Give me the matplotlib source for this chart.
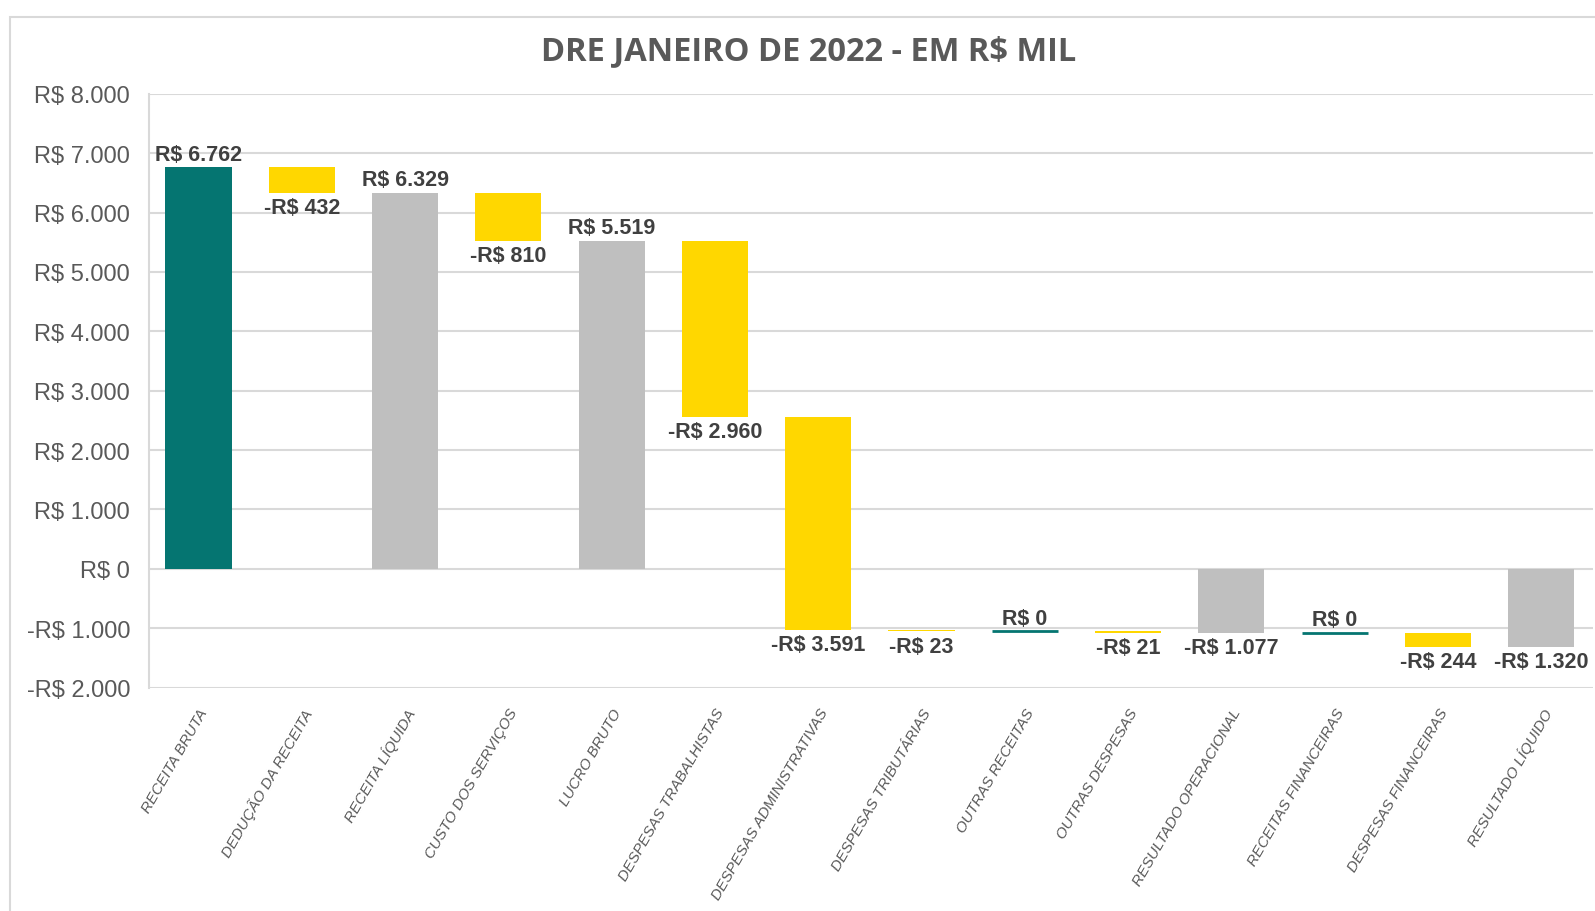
import numpy as np
import matplotlib.pyplot as plt
from matplotlib.patches import Rectangle
from matplotlib.ticker import FuncFormatter

# DRE waterfall, values in R$ mil
categories = ['RECEITA BRUTA', 'DEDUÇÃO DA RECEITA', 'RECEITA LÍQUIDA', 'CUSTO DOS SERVIÇOS',
              'LUCRO BRUTO', 'DESPESAS TRABALHISTAS', 'DESPESAS ADMINISTRATIVAS',
              'DESPESAS TRIBUTÁRIAS', 'OUTRAS RECEITAS', 'OUTRAS DESPESAS',
              'RESULTADO OPERACIONAL', 'RECEITAS FINANCEIRAS', 'DESPESAS FINANCEIRAS',
              'RESULTADO LÍQUIDO']
values = [6762, -432, 6329, -810, 5519, -2960, -3591, -23, 0, -21, -1077, 0, -244, -1320]
kinds = ['start', 'delta', 'total', 'delta', 'total', 'delta', 'delta',
         'delta', 'delta', 'delta', 'total', 'delta', 'delta', 'total']

teal = '#057571'
yellow = '#FFD700'
gray = '#BFBFBF'
txt = '#595959'

narrow = ['Liberation Sans Narrow', 'Liberation Sans', 'DejaVu Sans']


def fmt(v, pos=None):
    s = f"{abs(v):,.0f}".replace(",", ".")
    return ("-" if v < 0 else "") + "R$ " + s


# bar bottoms / tops
bottoms, heights, colors = [], [], []
running = 0
for v, k in zip(values, kinds):
    if k in ('start', 'total'):
        bottoms.append(0)
        heights.append(v)
        running = v
        colors.append(teal if k == 'start' else gray)
    else:
        bottoms.append(running)
        heights.append(v)
        running += v
        colors.append(yellow if v < 0 else teal)

fig = plt.figure(figsize=(15.95, 9.12), dpi=100)
fig.patches.append(Rectangle((10 / 1595, -0.05), 1.2, 1.05 - 18 / 912, transform=fig.transFigure,
                             fill=False, edgecolor='#D9D9D9', linewidth=1.5, zorder=0))

ax = fig.add_axes([0.0937, 0.245, 0.905, 0.651])
x = np.arange(len(categories))
for i in range(len(x)):
    if heights[i] == 0:
        ax.hlines(bottoms[i], x[i] - 0.32, x[i] + 0.32, color=colors[i], linewidth=2, zorder=3)
    else:
        ax.bar(x[i], heights[i], bottom=bottoms[i], width=0.64, color=colors[i], zorder=3)

# data labels
for i in range(len(x)):
    top = bottoms[i] + max(heights[i], 0)
    low = bottoms[i] + min(heights[i], 0)
    if values[i] >= 0:
        ax.annotate(fmt(values[i]), (x[i], top), xytext=(0, 2), textcoords='offset points',
                    ha='center', va='bottom', fontsize=15.5, fontweight='bold',
                    color='#404040', family=narrow)
    else:
        ax.annotate(fmt(values[i]), (x[i], low), xytext=(0, -3), textcoords='offset points',
                    ha='center', va='top', fontsize=15.5, fontweight='bold',
                    color='#404040', family=narrow)

ax.set_ylim(-2000, 8000)
ax.set_xlim(-0.475, len(categories) - 0.5)
ax.set_yticks(np.arange(-2000, 8001, 1000))
ax.yaxis.set_major_formatter(FuncFormatter(fmt))
ax.grid(axis='y', color='#D9D9D9', linewidth=1.5, zorder=0)
ax.set_axisbelow(True)
for s in ['top', 'right', 'bottom']:
    ax.spines[s].set_visible(False)
ax.spines['left'].set_color('#D9D9D9')
ax.spines['left'].set_linewidth(1.5)
ax.tick_params(axis='y', length=0, pad=14, labelsize=17, labelcolor=txt)
for lab in ax.get_yticklabels():
    lab.set_family(narrow)

ax.set_xticks(x)
ax.set_xticklabels(categories, rotation=60, ha='right', rotation_mode='anchor',
                   fontsize=10.8, style='italic', color=txt, family=narrow)
ax.tick_params(axis='x', length=0, pad=13)

fig.text(0.507, 0.943, 'DRE JANEIRO DE 2022 - EM R$ MIL', ha='center', va='center',
         fontsize=23.5, fontweight='bold', color=txt, family=['Open Sans', 'DejaVu Sans'])

fig.savefig('out.png', dpi=100)
